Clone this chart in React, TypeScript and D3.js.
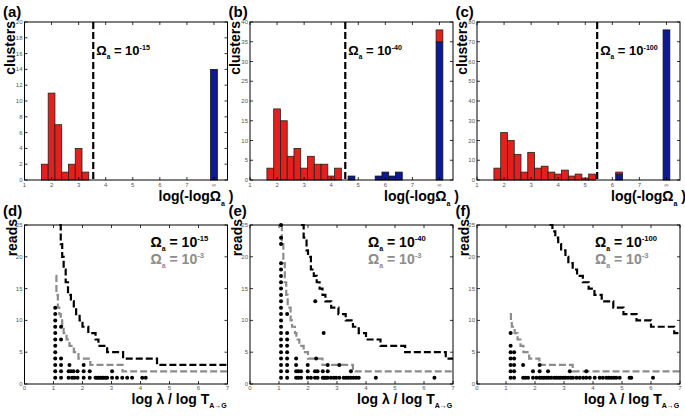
import React from 'react';
import * as d3 from 'd3';

// ---------- layout constants ----------
const panelLefts = [24.5, 250, 477];
const plotW = 203;
const histTop = 22, histBottom = 180;
const stepTop = 225, stepBottom = 384;

// ---------- histogram data (top row) ----------
const histXTicks = [1, 2, 3, 4, 5, 6, 7, 8];
const histXTickLabels = ['1', '2', '3', '4', '5', '6', '7', '∞'];
const histYMax = [20, 40, 80];
const histYTicksA = [0, 2, 4, 6, 8, 10, 12, 14, 16, 18, 20];
const histYTicksB = [0, 5, 10, 15, 20, 25, 30, 35, 40];
const histYTicksC = [0, 10, 20, 30, 40, 50, 60, 70, 80];
const thresholdLines = [3.54, 4.52, 5.44]; // log(-log Omega_a)
const omegaExponents = ['-15', '-40', '-100'];
const panelLettersTop = ['(a)', '(b)', '(c)'];
const panelLettersBottom = ['(d)', '(e)', '(f)'];

const redBinsA = [1.75, 2, 2.25, 2.5, 2.75, 3, 3.25];
const redCountsA = [2, 11, 7, 1, 2, 4, 1];
const blueBinsA = [8];
const blueCountsA = [14];

const redBinsB = [1.75, 2, 2.25, 2.5, 2.75, 3, 3.25, 3.5, 3.75, 4, 4.25, 8];
const redCountsB = [3, 18, 15, 6, 8, 3, 6, 4, 4, 1, 3, 3];
const blueBinsB = [4.75, 5.75, 6, 6.25, 6.5, 8];
const blueCountsB = [1, 1, 2, 1, 2, 35];

const redBinsC = [1.75, 2, 2.25, 2.5, 2.75, 3, 3.25, 3.5, 3.75, 4, 4.25, 4.5, 4.75, 5, 5.25, 6.25];
const redCountsC = [6, 24, 20, 13, 4, 14, 6, 7, 4, 3, 5, 2, 3, 1, 3, 1];
const blueBinsC = [6.25, 8];
const blueCountsC = [3, 76];

const histData = [
  { redBins: redBinsA, red: redCountsA, blueBins: blueBinsA, blue: blueCountsA, yTicks: histYTicksA },
  { redBins: redBinsB, red: redCountsB, blueBins: blueBinsB, blue: blueCountsB, yTicks: histYTicksB },
  { redBins: redBinsC, red: redCountsC, blueBins: blueBinsC, blue: blueCountsC, yTicks: histYTicksC },
];

// ---------- step / scatter data (bottom row) ----------
const stepXTicks = [0, 1, 2, 3, 4, 5, 6, 7];
const stepYTicks = [0, 5, 10, 15, 20, 25];

const blackStepD: [number, number][] = [
  [1.2, 25], [1.25, 22], [1.3, 20], [1.35, 18], [1.42, 16], [1.5, 14], [1.6, 13], [1.7, 12],
  [1.78, 11], [1.9, 10], [2.0, 9], [2.2, 8], [2.45, 7], [2.55, 6], [2.85, 5], [3.4, 4], [4.57, 3], [7, 3],
];
const grayStepD: [number, number][] = [
  [1.07, 17], [1.1, 14], [1.15, 12], [1.2, 11], [1.25, 10], [1.3, 9], [1.35, 8], [1.45, 7],
  [1.55, 6], [1.7, 5], [1.86, 4], [2.27, 3], [3.38, 2], [7, 2],
];
const blackStepE: [number, number][] = [
  [1.76, 25], [1.85, 23], [1.95, 21], [2.0, 20], [2.1, 18], [2.2, 17], [2.3, 16], [2.4, 15],
  [2.5, 14], [2.6, 13], [2.8, 12], [3.05, 11], [3.3, 10], [3.55, 9], [3.75, 8], [4.0, 7],
  [4.5, 6], [5.35, 5], [6.75, 4], [7, 4],
];
const grayStepE: [number, number][] = [
  [1.07, 25], [1.1, 22], [1.15, 19], [1.2, 16], [1.25, 14], [1.3, 12], [1.4, 10], [1.45, 9],
  [1.55, 8], [1.6, 7], [1.7, 6], [1.85, 5], [2.0, 4], [2.5, 3], [3.55, 2], [7, 2],
];
const blackStepF: [number, number][] = [
  [2.5, 25], [2.6, 24], [2.7, 23], [2.8, 22], [2.9, 21], [3.05, 20], [3.15, 19], [3.3, 18],
  [3.45, 17], [3.65, 16], [3.85, 15], [4.05, 14], [4.3, 13], [4.7, 12], [5.05, 11], [5.5, 10],
  [6.0, 9], [6.8, 8], [7, 8],
];
const grayStepF: [number, number][] = [
  [1.13, 11], [1.17, 10], [1.2, 9], [1.3, 8], [1.4, 7], [1.5, 6], [1.6, 5], [1.8, 4],
  [2.15, 3], [3.3, 2], [7, 2],
];

const dotsD: [number, number][] = [
  [1.06, 1], [1.06, 2], [1.06, 3], [1.06, 4], [1.06, 5], [1.06, 6], [1.06, 7], [1.06, 8],
  [1.06, 9], [1.06, 10], [1.06, 11], [1.06, 12],
  [1.26, 1], [1.26, 2], [1.26, 3], [1.26, 4], [1.26, 7], [1.26, 9],
  [1.55, 3], [1.52, 2], [1.52, 1], [1.6, 2], [1.64, 1], [1.69, 2], [1.72, 1], [1.83, 2], [1.83, 1],
  [2.04, 3], [2.04, 2], [2.04, 1], [2.25, 2], [2.25, 1], [3.02, 2],
  [2.45, 1], [2.5, 1], [2.56, 1], [2.62, 1], [2.68, 1], [2.73, 1], [2.79, 1], [2.85, 1],
  [3.02, 1], [3.19, 1], [3.37, 1], [3.54, 1], [3.71, 1], [4.06, 1], [4.18, 1],
];
const dotsE: [number, number][] = [
  [1.07, 1], [1.07, 2], [1.07, 3], [1.07, 4], [1.07, 5], [1.07, 6], [1.07, 7], [1.07, 8],
  [1.07, 9], [1.07, 10], [1.07, 11], [1.07, 12], [1.07, 13], [1.07, 14], [1.07, 15], [1.07, 16],
  [1.07, 17], [1.07, 18], [1.07, 19], [1.07, 22], [1.07, 23], [1.07, 25],
  [1.28, 1], [1.28, 2], [1.28, 3], [1.28, 4], [1.28, 5], [1.28, 6], [1.28, 7], [1.28, 8], [1.28, 11],
  [1.59, 1], [1.59, 2], [1.59, 3], [1.59, 4], [1.67, 1], [1.67, 2], [1.76, 1], [1.76, 2],
  [1.99, 1], [1.99, 2], [1.99, 3], [2.1, 1], [2.24, 1], [2.24, 2], [2.28, 4], [2.25, 13],
  [2.33, 1], [2.33, 2], [2.51, 1], [2.51, 2], [2.54, 8], [2.56, 1], [2.62, 1], [2.68, 1],
  [2.68, 2], [2.68, 3], [2.79, 1], [2.89, 1], [2.97, 1], [3.08, 1], [3.08, 3], [3.23, 1],
  [3.31, 1], [3.39, 1], [3.48, 1], [3.48, 2], [3.57, 1], [3.66, 1], [3.75, 1], [4.34, 1], [6.36, 1],
];
const dotsF: [number, number][] = [
  [1.16, 1], [1.16, 2], [1.16, 3], [1.16, 4], [1.16, 5], [1.16, 6], [1.16, 8],
  [1.28, 1], [1.28, 2], [1.28, 3], [1.28, 4], [1.28, 5],
  [1.59, 3], [1.93, 2], [2.16, 2], [2.16, 3], [2.45, 2], [3.2, 2], [3.77, 2],
  [1.59, 1], [1.67, 1], [1.76, 1], [1.93, 1], [2.05, 1], [2.16, 1], [2.24, 1], [2.31, 1],
  [2.39, 1], [2.47, 1], [2.56, 1], [2.66, 1], [2.74, 1], [2.82, 1], [2.89, 1], [2.97, 1],
  [3.05, 1], [3.14, 1], [3.23, 1], [3.31, 1], [3.43, 1], [3.54, 1], [3.66, 1], [3.77, 1],
  [3.89, 1], [4.06, 1], [4.23, 1], [4.34, 1], [4.46, 1], [4.54, 1], [4.63, 1], [4.72, 1],
  [4.8, 1], [4.92, 1], [5.26, 1], [5.32, 1], [6.07, 1],
];

const stepData = [
  { black: blackStepD, gray: grayStepD, dots: dotsD },
  { black: blackStepE, gray: grayStepE, dots: dotsE },
  { black: blackStepF, gray: grayStepF, dots: dotsF },
];

// ---------- styles ----------
const FONT = 'Liberation Sans, Arial, Helvetica, sans-serif';
const RED = '#e3201b';
const BLUE = '#0c1a93';
const GRAY = '#8c8c8c';
const TICK_COLOR = '#555';

function OmegaLabel({ x, y, exp, color, size }: { x: number; y: number; exp: string; color: string; size: number }) {
  return (
    <text x={x} y={y} fontFamily={FONT} fontWeight="bold" fontSize={size} fill={color}>
      Ω
      <tspan dy={size * 0.3} fontSize={size * 0.5}>a</tspan>
      <tspan dy={-size * 0.3}>{' = 10'}</tspan>
      <tspan dy={-size * 0.4} fontSize={size * 0.55}>{exp}</tspan>
    </text>
  );
}

function Frame({ x0, x1, y0, y1, xTicks, yTicks }: any) {
  const tl = 3;
  return (
    <g>
      <rect x={x0} y={y1} width={x1 - x0} height={y0 - y1} fill="none" stroke="#000" strokeWidth={1} />
      {xTicks.map((t: number, i: number) => (
        <g key={'xt' + i}>
          <line x1={t} x2={t} y1={y0} y2={y0 - tl} stroke="#000" strokeWidth={0.8} />
          <line x1={t} x2={t} y1={y1} y2={y1 + tl} stroke="#000" strokeWidth={0.8} />
        </g>
      ))}
      {yTicks.map((t: number, i: number) => (
        <g key={'yt' + i}>
          <line x1={x0} x2={x0 + tl} y1={t} y2={t} stroke="#000" strokeWidth={0.8} />
          <line x1={x1} x2={x1 - tl} y1={t} y2={t} stroke="#000" strokeWidth={0.8} />
        </g>
      ))}
    </g>
  );
}

function HistPanel({ i }: { i: number }) {
  const L = panelLefts[i];
  const d = histData[i];
  const x = d3.scaleLinear().domain([1, 8.5]).range([L, L + plotW]);
  const y = d3.scaleLinear().domain([0, histYMax[i]]).range([histBottom, histTop]);
  const half = 0.125;
  const blueAt = (b: number) => {
    const k = d.blueBins.indexOf(b);
    return k >= 0 ? d.blue[k] : 0;
  };
  return (
    <g>
      <text x={3} dx={L - 24.5} y={17} fontFamily={FONT} fontWeight="bold" fontSize={15}>{panelLettersTop[i]}</text>
      <text transform={`translate(${L - 10},21) rotate(-90)`} textAnchor="end" fontFamily={FONT} fontWeight="bold" fontSize={14}>clusters</text>
      {d.blueBins.map((b, k) => (
        <rect key={'b' + k} x={x(b - half)} width={x(b + half) - x(b - half)} y={y(d.blue[k])} height={y(0) - y(d.blue[k])} fill={BLUE} stroke="#111" strokeWidth={0.8} />
      ))}
      {d.redBins.map((b, k) => {
        const base = blueAt(b);
        return (
          <rect key={'r' + k} x={x(b - half)} width={x(b + half) - x(b - half)} y={y(base + d.red[k])} height={y(base) - y(base + d.red[k])} fill={RED} stroke="#222" strokeWidth={0.8} />
        );
      })}
      <line x1={x(thresholdLines[i])} x2={x(thresholdLines[i])} y1={histTop} y2={histBottom} stroke="#000" strokeWidth={2.2} strokeDasharray="7,3" />
      <OmegaLabel x={x(thresholdLines[i]) + 3} y={55} exp={omegaExponents[i]} color="#000" size={13} />
      <Frame x0={L} x1={L + plotW} y0={histBottom} y1={histTop} xTicks={histXTicks.map((t) => x(t))} yTicks={d.yTicks.map((t) => y(t))} />
      {histXTicks.map((t, k) => (
        <text key={'xl' + k} x={x(t)} y={186.5} textAnchor="middle" fontFamily={FONT} fontSize={6} fill={TICK_COLOR}>{histXTickLabels[k]}</text>
      ))}
      {d.yTicks.map((t, k) => (
        <text key={'yl' + k} x={L - 2} y={y(t) + 2} textAnchor="end" fontFamily={FONT} fontSize={6} fill={TICK_COLOR}>{t}</text>
      ))}
      <text x={L + 134} y={201} fontFamily={FONT} fontWeight="bold" fontSize={14}>
        log(-logΩ
        <tspan dy={5} fontSize={7}>a</tspan>
        <tspan dy={-5}>{' )'}</tspan>
      </text>
    </g>
  );
}

function StepPanel({ i }: { i: number }) {
  const L = panelLefts[i];
  const d = stepData[i];
  const x = d3.scaleLinear().domain([0, 7]).range([L, L + plotW]);
  const y = d3.scaleLinear().domain([0, 25]).range([stepBottom, stepTop]);
  const line = d3.line<[number, number]>().x((p) => x(p[0])).y((p) => y(p[1])).curve(d3.curveStepAfter);
  return (
    <g>
      <text x={3 + L - 24.5} y={216} fontFamily={FONT} fontWeight="bold" fontSize={15}>{panelLettersBottom[i]}</text>
      <text transform={`translate(${L - 8},219) rotate(-90)`} textAnchor="end" fontFamily={FONT} fontWeight="bold" fontSize={14}>reads</text>
      <path d={line(d.gray) || ''} fill="none" stroke={GRAY} strokeWidth={2.2} strokeDasharray="7,3" />
      <path d={line(d.black) || ''} fill="none" stroke="#000" strokeWidth={2.2} strokeDasharray="7,3" />
      {d.dots.map((p, k) => (
        <circle key={'d' + k} cx={x(p[0])} cy={y(p[1])} r={2} fill="#000" />
      ))}
      <OmegaLabel x={L + (i === 0 ? 126 : 118)} y={247} exp={omegaExponents[i]} color="#000" size={14} />
      <OmegaLabel x={L + (i === 0 ? 126 : 118)} y={264} exp={'-3'} color={GRAY} size={14} />
      <Frame x0={L} x1={L + plotW} y0={stepBottom} y1={stepTop} xTicks={stepXTicks.map((t) => x(t))} yTicks={stepYTicks.map((t) => y(t))} />
      {stepXTicks.map((t, k) => (
        <text key={'xl' + k} x={x(t)} y={390} textAnchor="middle" fontFamily={FONT} fontSize={6} fill={TICK_COLOR}>{t}</text>
      ))}
      {stepYTicks.map((t, k) => (
        <text key={'yl' + k} x={L - 2} y={y(t) + 2} textAnchor="end" fontFamily={FONT} fontSize={6} fill={TICK_COLOR}>{t}</text>
      ))}
      <text x={L + 107} y={404} fontFamily={FONT} fontWeight="bold" fontSize={14}>
        log λ / log T
        <tspan dy={4} fontSize={7}>A→G</tspan>
      </text>
    </g>
  );
}

export default function App() {
  return (
    <svg width={685} height={416} style={{ position: 'absolute', left: 0, top: 0, background: '#fff' }}>
      <rect x={0} y={0} width={685} height={416} fill="#fff" />
      {[0, 1, 2].map((i) => <HistPanel key={'h' + i} i={i} />)}
      {[0, 1, 2].map((i) => <StepPanel key={'s' + i} i={i} />)}
    </svg>
  );
}
